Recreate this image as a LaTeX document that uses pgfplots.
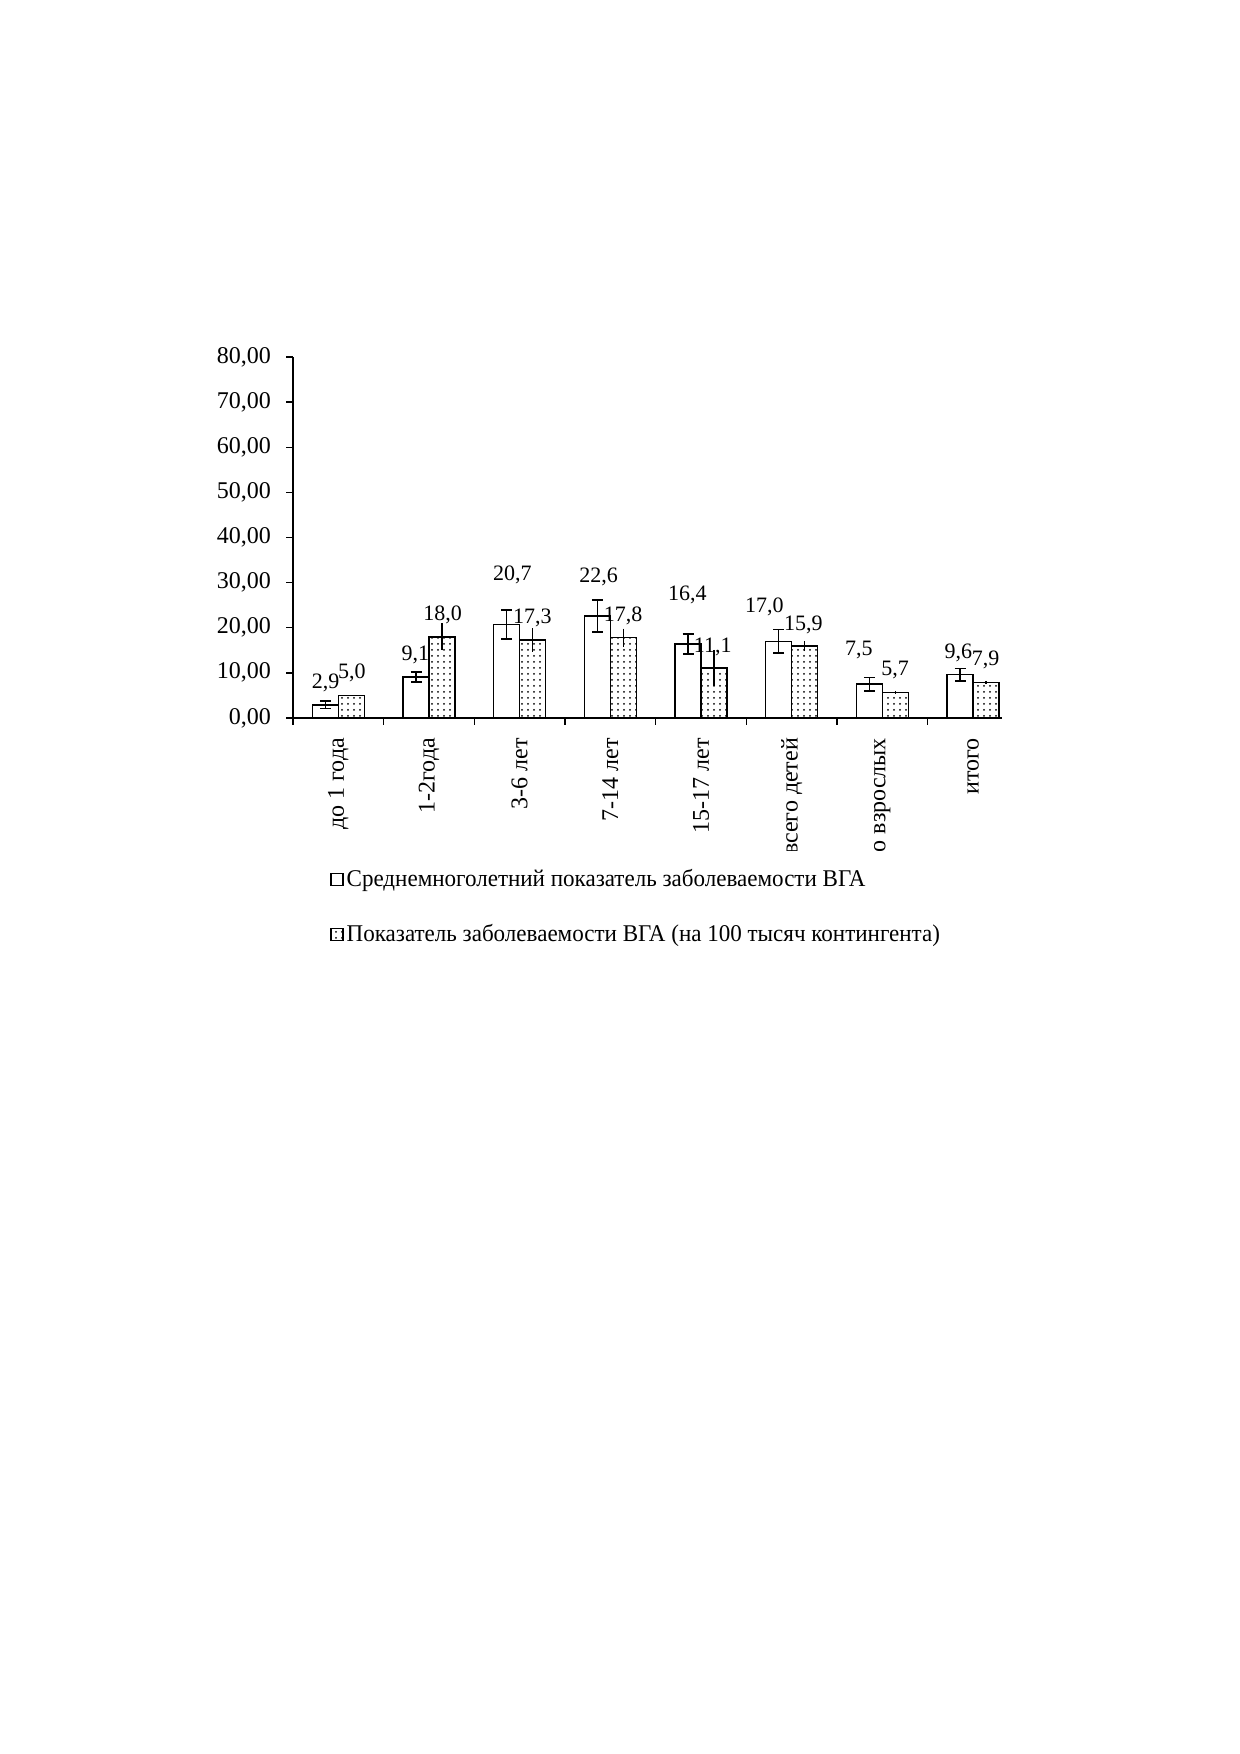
\documentclass[border=0pt]{standalone}
\usepackage{fontspec}
\setmainfont{Liberation Serif}
\newfontfamily\legfont[FakeStretch=0.96]{Liberation Serif}
\usepackage{pgfplots}
\pgfplotsset{compat=1.18}
\usetikzlibrary{patterns}
\begin{document}
\begin{tikzpicture}
\path[fill=white] (0pt,0pt) rectangle (619.5pt,877pt);
\begin{axis}[
  at={(146.5pt,518pt)}, anchor=south west,
  scale only axis, width=354.5pt, height=180.5pt,
  xmin=-0.5, xmax=7.32, ymin=0, ymax=80,
  axis x line*=bottom, axis y line*=left,
  axis line style={black, line width=0.7pt},
  tick align=outside, major tick length=3.5pt,
  tick style={black, line width=0.7pt},
  ytick={0,10,...,80},
  yticklabel style={font=\fontsize{12}{14}\selectfont, /pgf/number format/.cd, fixed, fixed zerofill, precision=2, use comma, assume math mode=true},
  yticklabel shift=4pt,
  xtick={-0.5,0.5,...,6.5}, xticklabels={},
  extra x ticks={0,1,2,3,4,5,6,7},
  extra x tick labels={до 1 года,1-2года,3-6 лет,7-14 лет,15-17 лет,всего детей,всего взрослых,итого},
  extra x tick style={major tick length=0pt},
  xticklabel style={rotate=90, anchor=east, font=\fontsize{12}{14}\selectfont},
  xticklabel shift=6.5pt,
  ybar=0pt, bar width=13pt,
  clip=false,
  legend style={at={(axis description cs:0.052,-0.41)}, anchor=north west, draw=none, fill=none,
    font=\legfont\fontsize{12}{14}\selectfont, row sep=14.3pt, inner sep=0pt, nodes={inner sep=1.5pt}},
  legend cell align=left,
]
\addplot[draw=black, fill=white, line width=0.75pt,
  legend image code/.code={\draw[black, fill=white, line width=0.7pt] (0pt,-3pt) rectangle (6pt,3pt);},
  error bars/.cd, y dir=both, y explicit,
  error bar style={black, line width=0.8pt},
  error mark options={black, mark size=2.75pt, line width=0.8pt, rotate=90}]
  coordinates {
  (0,2.9) +- (0,0.8)
  (1,9.1) +- (0,1.1)
  (2,20.7) +- (0,3.2)
  (3,22.6) +- (0,3.6)
  (4,16.4) +- (0,2.2)
  (5,17.0) +- (0,2.6)
  (6,7.5) +- (0,1.5)
  (7,9.6) +- (0,1.4)
  };
\addlegendentry{Среднемноголетний показатель заболеваемости ВГА}
\addplot[draw=black, pattern=dots, line width=0.75pt,
  legend image code/.code={\draw[black, pattern=dots, line width=0.7pt] (0pt,-3pt) rectangle (6pt,3pt);},
  error bars/.cd, y dir=both, y explicit, error mark=none,
  error bar style={black, line width=0.8pt}]
  coordinates {
  (0,5.0) +- (0,0)
  (1,18.0) +- (0,3.0)
  (2,17.3) +- (0,2.6)
  (3,17.8) +- (0,2.0)
  (4,11.1) +- (0,4.0)
  (5,15.9) +- (0,1.1)
  (6,5.7) +- (0,0.3)
  (7,7.9) +- (0,0.3)
  };
\addlegendentry{Показатель заболеваемости ВГА (на 100 тысяч контингента)}
\begin{scope}[every node/.style={font=\fontsize{11}{13}\selectfont, inner sep=0pt}]
\node at (axis cs:-0.14,7.8) {2,9};
\node at (axis cs:0.15,10.0) {5,0};
\node at (axis cs:0.85,14.0) {9,1};
\node at (axis cs:1.15,22.8) {18,0};
\node at (axis cs:1.92,31.7) {20,7};
\node at (axis cs:2.14,22.2) {17,3};
\node at (axis cs:2.87,31.3) {22,6};
\node at (axis cs:3.14,22.6) {17,8};
\node at (axis cs:3.85,27.3) {16,4};
\node at (axis cs:4.13,15.7) {11,1};
\node at (axis cs:4.70,24.6) {17,0};
\node at (axis cs:5.13,20.6) {15,9};
\node at (axis cs:5.74,15.1) {7,5};
\node at (axis cs:6.14,10.6) {5,7};
\node at (axis cs:6.84,14.4) {9,6};
\node at (axis cs:7.14,12.9) {7,9};
\end{scope}
\end{axis}
\path[fill=white] (390pt,442pt) rectangle (407.5pt,451.5pt);
\path[fill=white] (435pt,422pt) rectangle (450pt,451.5pt);
\end{tikzpicture}
\end{document}
